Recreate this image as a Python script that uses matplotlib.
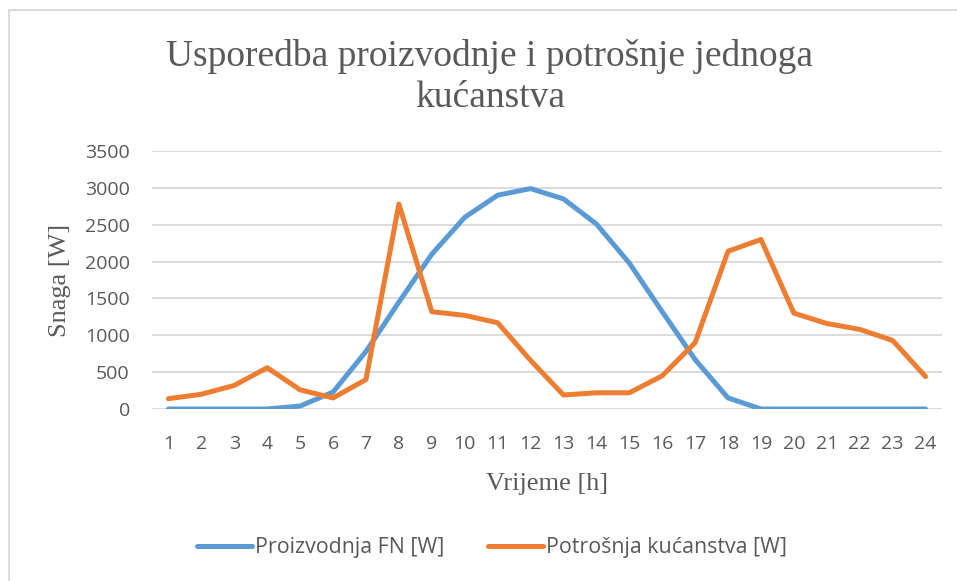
import matplotlib.pyplot as plt
from matplotlib.lines import Line2D

hours = list(range(1, 25))
proizvodnja = [0, 0, 0, 0, 40, 230, 780, 1450, 2100, 2600, 2900, 2990,
               2850, 2510, 1980, 1320, 670, 150, 0, 0, 0, 0, 0, 0]
potrosnja = [140, 200, 320, 560, 260, 150, 400, 2780, 1320, 1270, 1170, 660,
             190, 220, 220, 450, 900, 2140, 2300, 1300, 1160, 1080, 930, 440]
yticks = [0, 500, 1000, 1500, 2000, 2500, 3000, 3500]

grey = '#595959'
serif = 'Liberation Serif'
sans = 'Open Sans'

fig = plt.figure(figsize=(9.57, 5.81), dpi=100)
ax = fig.add_axes([152/957, 1-409/581, 790/957, 258/581])

ax.plot(hours, proizvodnja, color='#5B9BD5', lw=3.6, label='Proizvodnja FN [W]',
        solid_capstyle='round', solid_joinstyle='round', zorder=3)
ax.plot(hours, potrosnja, color='#ED7D31', lw=3.6, label='Potrošnja kućanstva [W]',
        solid_capstyle='round', solid_joinstyle='round', zorder=3)

ax.set_xlim(0.5, 24.5)
ax.set_ylim(0, 3500)
ax.set_xticks(hours)
ax.set_yticks(yticks)
ax.set_xticklabels([str(h) for h in hours], fontfamily=sans, fontsize=14, color=grey)
ax.set_yticklabels([str(v) for v in yticks], fontfamily=sans, fontsize=14, color=grey)
ax.tick_params(length=0)
ax.tick_params(axis='y', pad=16)
ax.tick_params(axis='x', pad=19)
ax.grid(axis='y', color='#D9D9D9', lw=1.3)
ax.set_axisbelow(True)
for s in ax.spines.values():
    s.set_visible(False)

ax.set_xlabel('Vrijeme [h]', fontfamily=serif, fontsize=19, color=grey, labelpad=14)
ax.set_ylabel('Snaga [W]', fontfamily=serif, fontsize=19, color=grey, labelpad=10)

fig.text(490/957, 1-77/581, 'Usporedba proizvodnje i potrošnje jednoga\nkućanstva',
         ha='center', va='center', fontfamily=serif, fontsize=27, color=grey,
         linespacing=1.25)

leg = fig.legend(loc='center', bbox_to_anchor=(492/957, 1-548/581), ncol=2, frameon=False,
                 prop={'family': sans, 'size': 15.4}, handlelength=2.6, handletextpad=0.15,
                 columnspacing=2.0)
for t in leg.get_texts():
    t.set_color(grey)

# chart area border
fig.add_artist(Line2D([9/957, 1], [1-10/581, 1-10/581], color='#D9D9D9', lw=1.3,
                      transform=fig.transFigure))
fig.add_artist(Line2D([9/957, 9/957], [0, 1-10/581], color='#D9D9D9', lw=1.3,
                      transform=fig.transFigure))

fig.savefig('out.png', dpi=100)
